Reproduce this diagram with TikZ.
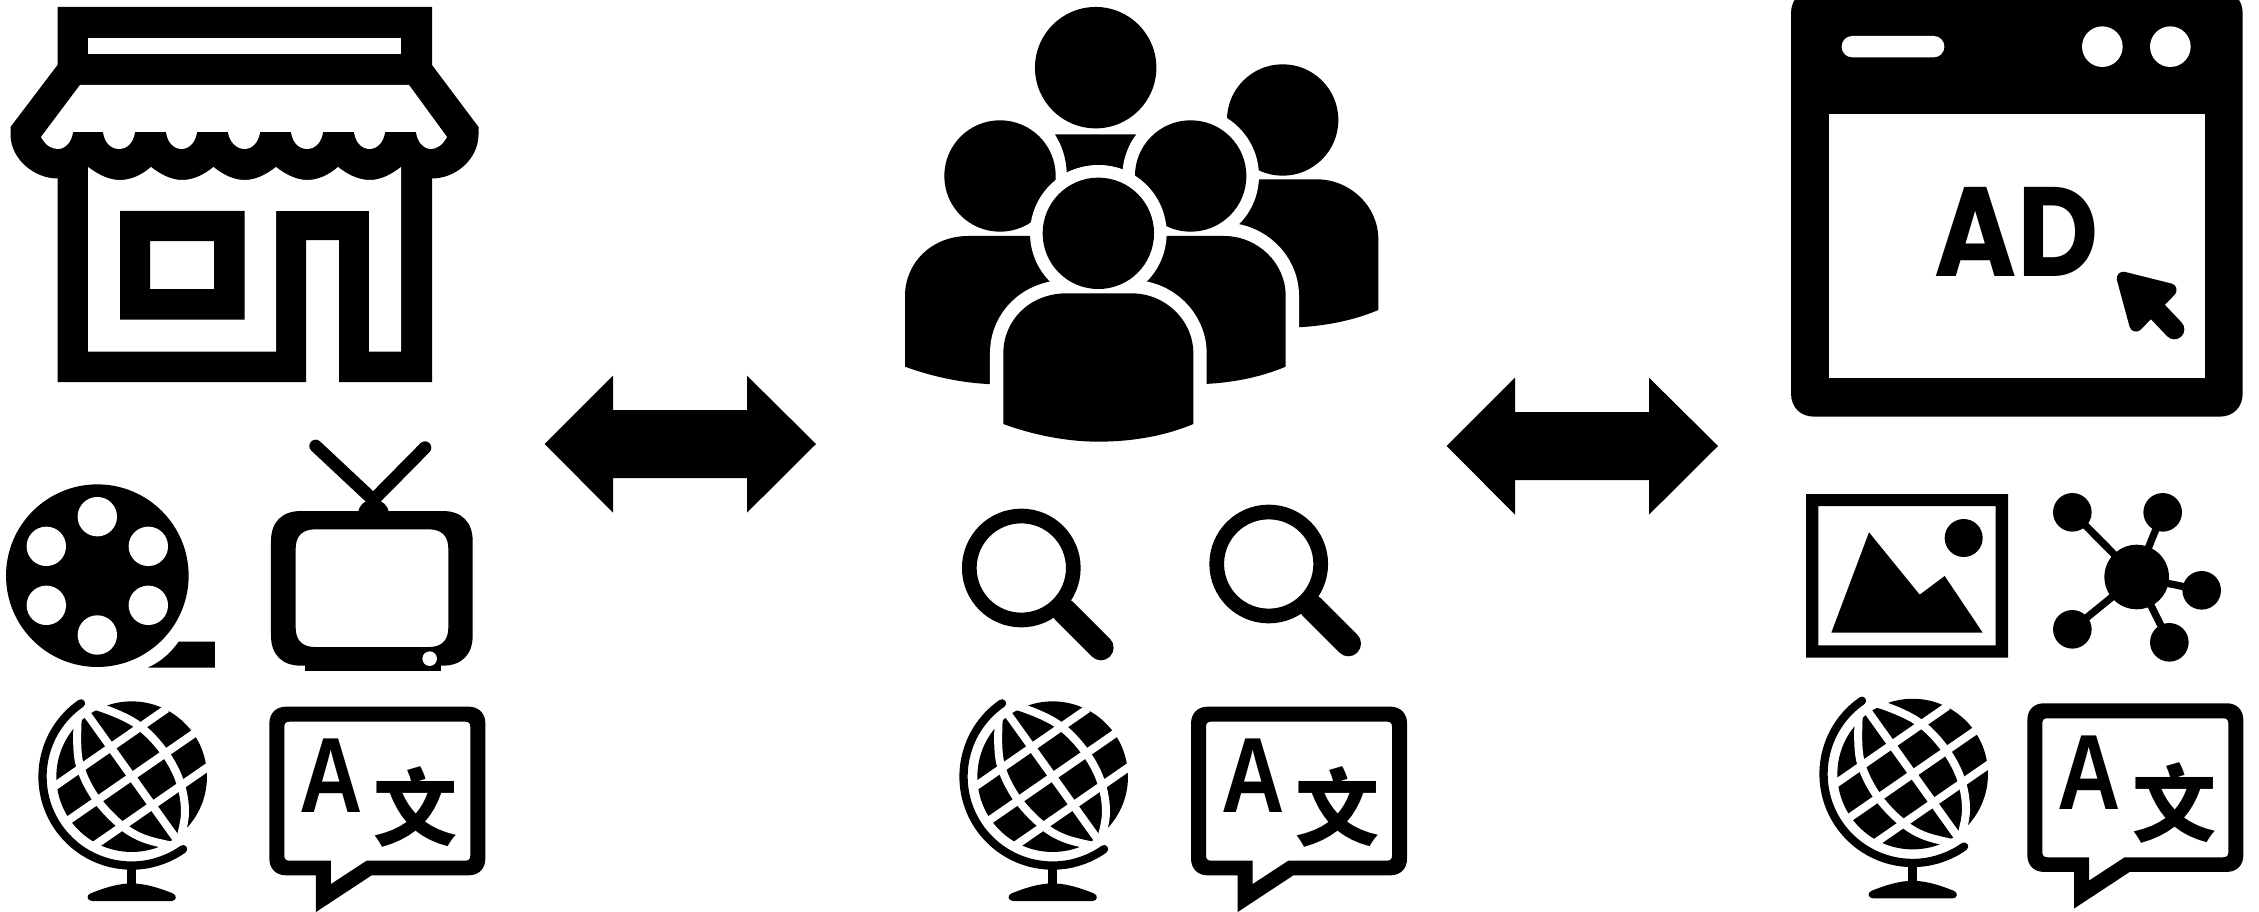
\documentclass[tikz,border=0pt]{standalone}
\usepackage{fontspec}
\usepackage{graphicx}
\newfontfamily\adface{Poppins}
\newfontfamily\latinface{Liberation Sans}
\newfontfamily\cjkface{Noto Sans CJK SC}
\definecolor{ink}{HTML}{000000}
\newcommand{\personbody}{(340,1272) -- (340,1060) .. controls (340,960) and (420,880) .. (530,880) -- (725,880) .. controls (825,880) and (910,960) .. (910,1060) -- (910,1272) .. controls (820,1310) and (720,1325) .. (625,1325) .. controls (530,1325) and (430,1305) .. (340,1272) -- cycle}
\tikzset{
  zoomunits/.style={x=0.33333pt,y=-0.33333pt},
  solid ink/.style={fill=ink,draw=none},
  blank/.style={fill=white,draw=none},
  halo/.style={draw=white,line width=26.7pt,line join=round},
  gridline/.style={draw=white,line width=8pt},
  glyph/.style={inner sep=0pt,outer sep=0pt,text=ink},
  globeicon/.pic={
    \begin{scope}[zoomunits]
      \fill[solid ink] (395,1040) circle (75.3pt);
      \draw[gridline] (165,1068) -- (500,836);
      \draw[gridline] (195,1178) -- (590,905);
      \draw[gridline] (275,1252) -- (625,1010);
      \draw[gridline] (245,830) -- (535,1235);
      \draw[gridline] plot[smooth,tension=0.6] coordinates {(240,838) (232,890) (238,1000) (283,1098) (357,1180) (430,1225) (530,1250)};
      \draw[gridline] plot[smooth,tension=0.6] coordinates {(245,825) (303,833) (408,881) (486,957) (538,1050) (555,1150) (535,1245)};
      \draw[ink,line width=8.3pt,line cap=round] (243,820) arc[start angle=124.6,end angle=305.4,radius=89pt];
      \fill[solid ink] (381,1318) rectangle (408,1370);
      \fill[solid ink] (277,1413) -- (515,1413) .. controls (530,1413) and (532,1395) .. (518,1390) .. controls (480,1375) and (440,1361) .. (395,1360) .. controls (350,1361) and (310,1375) .. (272,1390) .. controls (258,1395) and (260,1413) .. (277,1413) -- cycle;
    \end{scope}
  },
  translateicon/.pic={
    \begin{scope}[zoomunits]
      \fill[solid ink,even odd rule]
        (858,830) -- (1406,830) .. controls (1436,830) and (1456,850) .. (1456,880) -- (1456,1286) .. controls (1456,1316) and (1436,1336) .. (1406,1336) -- (1115,1336) -- (948,1446) -- (948,1336) -- (858,1336) .. controls (828,1336) and (808,1316) .. (808,1286) -- (808,880) .. controls (808,850) and (828,830) .. (858,830) -- cycle
        (868,875) -- (1396,875) .. controls (1406,875) and (1411,880) .. (1411,890) -- (1411,1277) .. controls (1411,1287) and (1406,1292) .. (1396,1292) -- (1100,1292) -- (993,1362) -- (993,1292) -- (868,1292) .. controls (858,1292) and (853,1287) .. (853,1277) -- (853,890) .. controls (853,880) and (858,875) .. (868,875) -- cycle;
      \node[glyph] (-latin) at (993,1037) {\latinface\bfseries\fontsize{107pt}{107pt}\selectfont\scalebox{0.82}[1]{A}};
      \node[glyph] (-han) at (1248,1130) {\cjkface\bfseries\fontsize{84pt}{84pt}\selectfont 文};
    \end{scope}
  },
  reelicon/.pic={
    \begin{scope}[zoomunits]
      \fill[solid ink] (292,437) circle (91.3pt);
      \foreach \hx/\hy in {292/260,292/615,139/349,445/349,139/526,445/526}
        \fill[blank] (\hx,\hy) circle (19.7pt);
      \fill[solid ink] (536,635) -- (645,635) -- (645,713) -- (443,713) .. controls (485,695) and (515,665) .. (536,635) -- cycle;
    \end{scope}
  },
  tvicon/.pic={
    \begin{scope}[zoomunits]
      \draw[ink,line width=12.7pt,line cap=round] (947,48) -- (1120,210) -- (1275,53);
      \fill[solid ink] (1075,250) .. controls (1075,225) and (1095,210) .. (1120,210) .. controls (1145,210) and (1166,225) .. (1166,250) -- cycle;
      \fill[solid ink] (915,695) rectangle (1322,724);
      \fill[solid ink,even odd rule]
        (903,243) -- (1328,243) .. controls (1385,243) and (1418,276) .. (1418,333) -- (1418,617) .. controls (1418,674) and (1385,707) .. (1328,707) -- (903,707) .. controls (846,707) and (813,674) .. (813,617) -- (813,333) .. controls (813,276) and (846,243) .. (903,243) -- cycle
        (945,298) -- (1287,298) .. controls (1325,298) and (1345,318) .. (1345,356) -- (1345,593) .. controls (1345,631) and (1325,651) .. (1287,651) -- (945,651) .. controls (907,651) and (887,631) .. (887,593) -- (887,356) .. controls (887,318) and (907,298) .. (945,298) -- cycle;
      \fill[blank] (1289,686) circle (7.3pt);
    \end{scope}
  },
  glassicon/.pic={
    \begin{scope}[zoomunits]
      \draw[ink,line width=14.7pt] (0,0) circle (52pt);
      \draw[ink,line width=25.3pt,line cap=round] (128,128) -- (239,239);
    \end{scope}
  },
  twowayarrow/.pic={
    \begin{scope}[zoomunits]
      \fill[solid ink] (44,252) -- (249,47) -- (249,150) -- (651,150) -- (651,47) -- (858,252) -- (651,458) -- (651,354) -- (249,354) -- (249,458) -- cycle;
    \end{scope}
  }
}
\begin{document}
\begin{tikzpicture}[x=1pt,y=-1pt]
\path[use as bounding box,fill=white] (0,0) rectangle (2259,912);

% shop
\begin{scope}
  \fill[solid ink] (57.5,7) -- (432,7) -- (432,65) -- (478.5,127) -- (478.5,135) .. controls (478,160) and (455,178.5) .. (432,178.5) -- (432,382) -- (339,382) -- (339,240) -- (306,240) -- (306,382) -- (57.5,382) -- (57.5,178.5) .. controls (35,178.5) and (11,160) .. (10.5,135) -- (10.5,127) -- (57.5,65) -- cycle;
  \fill[blank] (88,38) rectangle (401,54);
  \fill[blank] (80,85) -- (409,85) -- (447,137)
    .. controls (442,146) and (436,149) .. (431,149) .. controls (423,149) and (417,141) .. (416,132)
    -- (385,132) .. controls (384,141) and (378,149) .. (369.5,149) .. controls (361,149) and (355,141) .. (354,132)
    -- (323,132) .. controls (322,141) and (316,149) .. (307,149) .. controls (298,149) and (292,141) .. (291,132)
    -- (260,132) .. controls (259,141) and (253,149) .. (244.5,149) .. controls (236,149) and (229,141) .. (228,132)
    -- (197,132) .. controls (196,141) and (190,149) .. (181.5,149) .. controls (173,149) and (167,141) .. (166,132)
    -- (135,132) .. controls (134,141) and (128,149) .. (119,149) .. controls (110,149) and (104,141) .. (103,132)
    -- (73,132) .. controls (72,141) and (66,149) .. (58,149) .. controls (52,149) and (46,146) .. (41,137) -- cycle;
  \fill[blank] (88,167) .. controls (100,176) and (110,180) .. (120,180) .. controls (131,180) and (142,175) .. (151,167)
    .. controls (161,175) and (172,180) .. (182,180) .. controls (193,180) and (204,175) .. (213.5,167)
    .. controls (223,175) and (234,180) .. (245,180) .. controls (255,180) and (266,175) .. (276,167)
    .. controls (286,175) and (297,180) .. (307,180) .. controls (318,180) and (329,175) .. (338,167)
    .. controls (348,175) and (359,180) .. (370,180) .. controls (380,180) and (391,175) .. (401,167)
    -- (401,351.5) -- (369,351.5) -- (369,211) -- (276,211) -- (276,351.5) -- (88,351.5) -- cycle;
  \fill[solid ink,even odd rule] (120,211) rectangle (244.5,319.5) (150,241) rectangle (214,289);
\end{scope}

% people
\begin{scope}[shift={(890,0)},zoomunits]
  \fill[solid ink] (617,203) circle (60.7pt);
  \fill[solid ink] (495,403) -- (740,403) .. controls (715,430) and (705,470) .. (703,510) .. controls (650,490) and (590,490) .. (530,517) .. controls (528,470) and (515,435) .. (495,403) -- cycle;
  % back right
  \fill[solid ink] (1178,360) circle (55.7pt);
  \begin{scope}[shift={(555,-342)}]\fill[solid ink] \personbody;\end{scope}
  % middle right
  \fill[blank] (902,528) circle (68.3pt);
  \begin{scope}[shift={(277,-172)}]\path[halo] \personbody;\fill[solid ink] \personbody;\end{scope}
  \fill[solid ink] (902,528) circle (55.7pt);
  % middle left
  \begin{scope}[shift={(-295,-172)}]\fill[solid ink] \personbody;\end{scope}
  \fill[solid ink] (330,528) circle (55.7pt);
  % front
  \fill[blank] (625,700) circle (68.3pt);
  \path[halo] \personbody;
  \fill[solid ink] \personbody;
  \fill[solid ink] (625,700) circle (55.7pt);
\end{scope}

% advert window
\begin{scope}[shift={(1780,0)},zoomunits]
  \fill[solid ink] (103,-30) -- (1318,-30) .. controls (1360,-30) and (1388,-2) .. (1388,40) -- (1388,1180) .. controls (1388,1222) and (1360,1250) .. (1318,1250) -- (103,1250) .. controls (61,1250) and (33,1222) .. (33,1180) -- (33,40) .. controls (33,-2) and (61,-30) .. (103,-30) -- cycle;
  \fill[blank] (148,343) rectangle (1274,1135);
  \fill[blank,rounded corners=10.5pt] (185,108) rectangle (493,172);
  \fill[blank] (967,140) circle (20.3pt);
  \fill[blank] (1171,140) circle (20.3pt);
  \node[glyph] (adtext) at (710,696) {\adface\bfseries\fontsize{127pt}{127pt}\selectfont\scalebox{0.88}[1]{AD}};
  \draw[ink,fill=ink,line width=13.3pt,line join=round] (1030,835) -- (1170,870) -- (1068,975) -- cycle;
  \draw[ink,line width=20pt,line cap=round] (1090,890) -- (1183,988);
\end{scope}

% picture icon
\begin{scope}[shift={(1790,480)},zoomunits]
  \fill[solid ink,even odd rule] (48,42) rectangle (654,533) (85,78) rectangle (617,496);
  \fill[solid ink] (521,174) circle (19pt);
  \fill[solid ink] (237,157) -- (389,344) -- (464,288) -- (578,458) -- (124,458) -- cycle;
\end{scope}

% network icon
\begin{scope}[shift={(1790,480)},zoomunits]
  \foreach \sx/\sy in {847/97,1118/97,1235/331,847/448,1138/487}{
    \draw[ink,line width=7.3pt] (1040,291) -- (\sx,\sy);
    \fill[solid ink] (\sx,\sy) circle (19.3pt);
  }
  \fill[solid ink] (1040,291) circle (32.3pt);
\end{scope}

% reel, television
\pic (reel) at (0,430) {reelicon};
\pic (tv) at (0,430) {tvicon};

% magnifiers
\pic (glassa) at (1021.3,568) {glassicon};
\pic (glassb) at (1268.7,564) {glassicon};

% globes
\pic (globea) at (0,430) {globeicon};
\pic (globeb) at (921,430) {globeicon};
\pic (globec) at (1781,427.4) {globeicon};

% translation bubbles
\pic (transa) at (0,430) {translateicon};
\pic (transb) at (921.7,430) {translateicon};
\pic (transc) at (1758,426.6) {translateicon};

% arrows
\pic (arrowa) at (530,360) {twowayarrow};
\pic (arrowb) at (1432,362) {twowayarrow};
\end{tikzpicture}
\end{document}
